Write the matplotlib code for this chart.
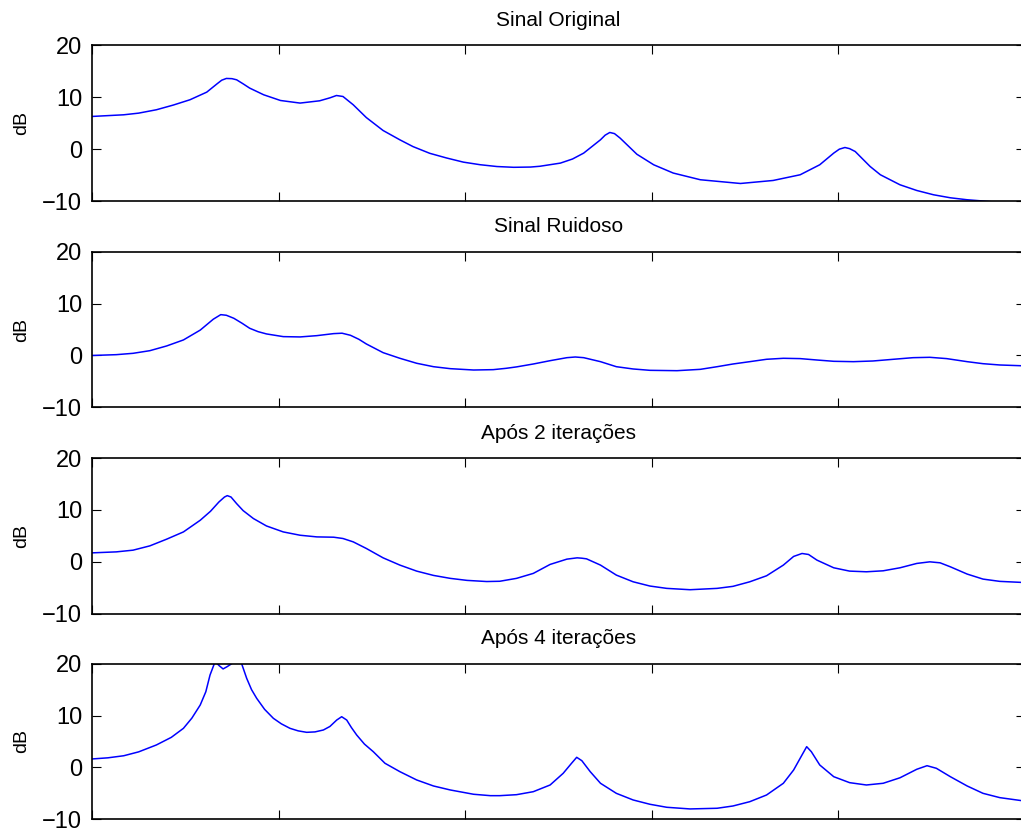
import matplotlib.pyplot as plt
import numpy as np

plt.rcParams['font.family'] = ['Liberation Sans', 'DejaVu Sans']

titulos = ['Sinal Original', 'Sinal Ruidoso', 'Após 2 iterações', 'Após 4 iterações']

x_orig = [0.000, 0.034, 0.050, 0.069, 0.087, 0.105, 0.123, 0.134, 0.139, 0.144, 0.150, 0.155,
          0.162, 0.169, 0.184, 0.202, 0.223, 0.244, 0.255, 0.262, 0.269, 0.280, 0.294, 0.312,
          0.330, 0.344, 0.362, 0.380, 0.398, 0.416, 0.434, 0.452, 0.470, 0.480, 0.502, 0.515,
          0.527, 0.545, 0.550, 0.555, 0.560, 0.566, 0.584, 0.602, 0.623, 0.652, 0.695, 0.730,
          0.759, 0.780, 0.795, 0.801, 0.807, 0.812, 0.818, 0.834, 0.845, 0.866, 0.884, 0.902,
          0.920, 0.938, 0.955, 0.980, 1.000]
y_orig = [6.31, 6.63, 6.95, 7.6, 8.5, 9.53, 11.0, 12.6, 13.3, 13.64, 13.6, 13.38,
          12.6, 11.78, 10.49, 9.39, 8.89, 9.33, 9.9, 10.35, 10.16, 8.56, 6.1, 3.6,
          1.8, 0.5, -0.8, -1.7, -2.5, -3.0, -3.35, -3.5, -3.45, -3.3, -2.69, -1.9,
          -0.76, 1.81, 2.7, 3.22, 3.0, 2.14, -0.98, -3.01, -4.61, -5.9, -6.62, -6.04,
          -4.94, -3.01, -0.76, 0.0, 0.32, 0.1, -0.45, -3.34, -4.94, -6.87, -7.97, -8.8,
          -9.38, -9.76, -10.0, -10.4, -10.7]

x_ruid = [0.000, 0.026, 0.044, 0.062, 0.080, 0.098, 0.116, 0.130, 0.138, 0.144, 0.152, 0.161,
          0.169, 0.178, 0.187, 0.205, 0.223, 0.241, 0.259, 0.268, 0.277, 0.286, 0.294, 0.312,
          0.330, 0.348, 0.366, 0.384, 0.409, 0.430, 0.444, 0.455, 0.473, 0.491, 0.509, 0.518,
          0.527, 0.545, 0.562, 0.580, 0.598, 0.627, 0.652, 0.670, 0.687, 0.705, 0.723, 0.741,
          0.759, 0.777, 0.795, 0.816, 0.837, 0.859, 0.880, 0.898, 0.916, 0.938, 0.955, 0.973,
          1.000]
y_ruid = [0.0, 0.16, 0.42, 0.93, 1.84, 3.0, 4.9, 7.0, 7.88, 7.76, 7.18, 6.2,
          5.25, 4.6, 4.16, 3.64, 3.58, 3.83, 4.22, 4.3, 3.9, 3.13, 2.23, 0.55,
          -0.54, -1.5, -2.16, -2.54, -2.8, -2.73, -2.47, -2.2, -1.64, -1.0, -0.42, -0.29,
          -0.42, -1.19, -2.16, -2.6, -2.86, -2.93, -2.67, -2.16, -1.64, -1.19, -0.73, -0.54,
          -0.6, -0.87, -1.12, -1.19, -1.06, -0.73, -0.42, -0.35, -0.6, -1.19, -1.58, -1.83,
          -2.0]

x_it2 = [0.000, 0.026, 0.044, 0.062, 0.080, 0.098, 0.116, 0.127, 0.136, 0.142, 0.145, 0.149,
         0.155, 0.162, 0.173, 0.187, 0.205, 0.223, 0.241, 0.259, 0.269, 0.280, 0.294, 0.312,
         0.330, 0.348, 0.366, 0.384, 0.402, 0.423, 0.437, 0.455, 0.473, 0.491, 0.509, 0.520,
         0.525, 0.530, 0.545, 0.562, 0.580, 0.598, 0.616, 0.641, 0.670, 0.687, 0.705, 0.723,
         0.741, 0.752, 0.761, 0.768, 0.777, 0.795, 0.812, 0.830, 0.848, 0.866, 0.884, 0.898,
         0.909, 0.920, 0.938, 0.955, 0.973, 1.000]
y_it2 = [1.73, 1.92, 2.25, 3.08, 4.37, 5.77, 8.02, 9.75, 11.54, 12.5, 12.77, 12.5,
         11.23, 9.88, 8.35, 6.92, 5.77, 5.13, 4.81, 4.75, 4.5, 3.85, 2.58, 0.77,
         -0.63, -1.79, -2.62, -3.19, -3.58, -3.8, -3.75, -3.19, -2.23, -0.5, 0.52, 0.77,
         0.7, 0.58, -0.63, -2.56, -3.85, -4.67, -5.12, -5.38, -5.12, -4.73, -3.85, -2.69,
         -0.63, 1.04, 1.61, 1.42, 0.33, -1.15, -1.79, -1.92, -1.73, -1.15, -0.31, 0.0,
         -0.19, -0.96, -2.36, -3.33, -3.77, -4.0]

x_it4 = [0.000, 0.017, 0.034, 0.050, 0.069, 0.085, 0.098, 0.107, 0.116, 0.122, 0.1265, 0.1311,
         0.133, 0.1365, 0.1405, 0.1445, 0.1497, 0.155, 0.1604, 0.1658, 0.171, 0.1765, 0.185,
         0.1944, 0.203, 0.2122, 0.221, 0.2301, 0.239, 0.248, 0.255, 0.2623, 0.2676, 0.273,
         0.278, 0.2837, 0.292, 0.3015, 0.314, 0.330, 0.348, 0.366,
         0.384, 0.409, 0.427, 0.437, 0.455, 0.473, 0.491, 0.505, 0.514, 0.5195, 0.525, 0.534,
         0.545, 0.562, 0.580, 0.598, 0.616, 0.641, 0.670, 0.687, 0.705, 0.723, 0.741, 0.752,
         0.761, 0.766, 0.771, 0.780, 0.795, 0.812, 0.830, 0.848, 0.866, 0.884, 0.895, 0.905,
         0.920, 0.938, 0.955, 0.973, 1.000]
y_it4 = [1.63, 1.85, 2.25, 3.0, 4.33, 5.8, 7.54, 9.5, 12.04, 14.6, 17.82, 20.0,
         20.2, 19.6, 19.0, 19.4, 20.0, 21.5, 20.0, 17.18, 15.0, 13.33, 11.2,
         9.47, 8.4, 7.54, 7.05, 6.77, 6.85, 7.22, 7.9, 9.14, 9.78, 9.14,
         7.7, 6.25, 4.5, 3.03, 0.8, -0.82, -2.42, -3.58,
         -4.35, -5.18, -5.45, -5.45, -5.26, -4.68, -3.39, -1.14, 0.8, 1.95, 1.3, -0.82,
         -3.06, -5.0, -6.28, -7.11, -7.69, -8.01, -7.88, -7.44, -6.61, -5.32, -3.06, -0.5,
         2.4, 4.0, 3.03, 0.47, -1.79, -2.94, -3.39, -3.06, -2.0, -0.36, 0.33, -0.17,
         -1.79, -3.58, -5.0, -5.83, -6.5]

curvas = [(x_orig, y_orig), (x_ruid, y_ruid), (x_it2, y_it2), (x_it4, y_it4)]

fig = plt.figure(figsize=(10.21, 8.33), dpi=100)

baixos = [0.7587, 0.5110, 0.2633, 0.0165]
for i in range(4):
    ax = fig.add_axes([92 / 1021, baixos[i], 933 / 1021, 0.1867])
    ax.plot(curvas[i][0], curvas[i][1], color='#0000ff', linewidth=1.1)
    ax.set_xlim(0, 1)
    ax.set_ylim(-10, 20)
    ax.set_xticks([0, 0.2, 0.4, 0.6, 0.8, 1.0])
    ax.set_yticks([-10, 0, 10, 20])
    ax.set_xticklabels([])
    ax.tick_params(direction='in', top=True, right=True, length=6.5, width=0.8,
                   labelsize=17, pad=7)
    for s in ax.spines.values():
        s.set_linewidth(1.2)
    ax.set_ylabel('dB', fontsize=14)
    ax.yaxis.set_label_coords(-0.066, 0.5)
    ax.set_title(titulos[i], fontsize=15, pad=14)

fig.savefig('out.png', dpi=100)
